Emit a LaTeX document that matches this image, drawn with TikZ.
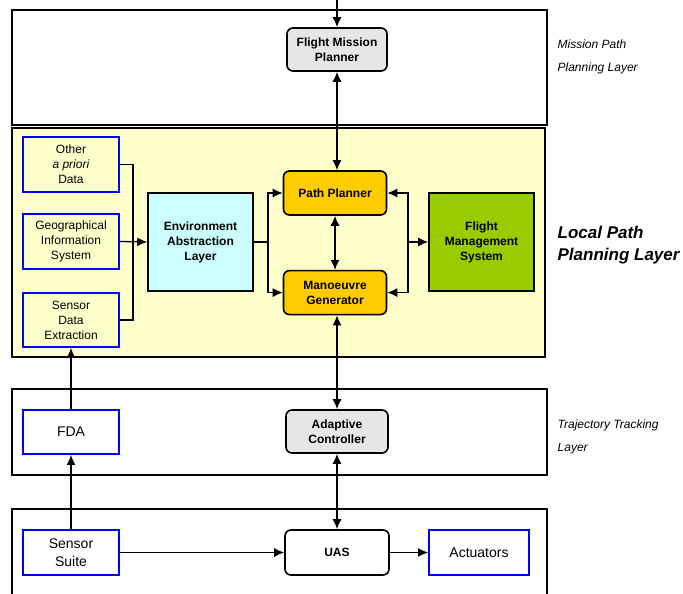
\documentclass[tikz,border=0pt]{standalone}
\usepackage{fontspec}
\setmainfont{Liberation Sans}
\usetikzlibrary{arrows.meta, positioning}
\definecolor{layeryellow}{HTML}{FFFFCC}
\definecolor{envcyan}{HTML}{CCFFFF}
\definecolor{planorange}{HTML}{FFCC00}
\definecolor{fmsgreen}{HTML}{99CC00}
\definecolor{ctrlgray}{HTML}{E6E6E6}

\tikzset{
  layerbox/.style = {line width=1.8pt},
  unit/.style = {draw, line width=1.6pt, align=center, inner sep=0pt,
    font=\fontsize{12}{15}\selectfont\bfseries},
  rounit/.style = {unit, rounded corners=6pt},
  srcbox/.style = {draw=blue, line width=1.9pt, align=center, inner sep=0pt,
    minimum width=96pt, font=\fontsize{12}{15}\selectfont},
  sidelabel/.style = {anchor=west, align=left, inner sep=0pt,
    font=\fontsize{12}{23}\selectfont\itshape},
}

\begin{document}
\begin{tikzpicture}[>={Latex[length=10pt, width=9pt]}, x=1pt, y=-1pt, line width=1.3pt]
    \useasboundingbox (0,0) rectangle (683,594);

    % layers
    \draw[layerbox] (12,10) rectangle (547,125);
    \draw[layerbox, fill=layeryellow] (12,128) rectangle (545,357);
    \draw[layerbox] (12,389) rectangle (547,475);
    \draw[layerbox] (12,610) -- (12,509) -- (547,509) -- (547,610);

    \node[sidelabel] (missionlbl) at (557,56.5) {Mission Path\\Planning Layer};
    \node[sidelabel, font=\fontsize{17}{22}\selectfont\bfseries\itshape] (locallbl) at (557,245) {Local Path\\Planning Layer};
    \node[sidelabel] (trackinglbl) at (557,437) {Trajectory Tracking\\Layer};

    % mission and local path planning
    \node[rounit, fill=ctrlgray, minimum width=100pt, minimum height=43pt] (fmp) at (337,49.5) {Flight Mission\\Planner};
    \node[rounit, fill=planorange, minimum width=103pt, minimum height=44pt] (pp) at (335,193) {Path Planner};
    \node[rounit, fill=planorange, minimum width=103pt, minimum height=44pt, below=54pt of pp] (mg) {Manoeuvre\\Generator};
    \node[unit, fill=envcyan, minimum width=105pt, minimum height=98pt] (eal) at (200.5,242) {Environment\\Abstraction\\Layer};
    \node[unit, fill=fmsgreen, minimum width=105pt, minimum height=98pt] (fms) at (481.5,242) {Flight\\Management\\System};

    \node[srcbox, minimum height=55pt] (gis) at (71,241.5) {Geographical\\Information\\System};
    \node[srcbox, minimum height=55pt, above=20pt of gis] (apriori) {Other\\\textit{a priori}\\Data};
    \node[srcbox, minimum height=54pt, below=22pt of gis] (sde) {Sensor\\Data\\Extraction};

    % trajectory tracking and vehicle
    \node[srcbox, minimum height=44pt, font=\fontsize{14}{18}\selectfont] (fda) at (71,432) {FDA};
    \node[rounit, fill=ctrlgray, minimum width=102pt, minimum height=43pt] (ac) at (337,431.5) {Adaptive\\Controller};
    \node[srcbox, minimum height=45pt, font=\fontsize{14}{18}\selectfont] (suite) at (71,552.5) {Sensor\\Suite};
    \node[rounit, fill=white, minimum width=104pt, minimum height=45pt] (uas) at (337,552.5) {UAS};
    \node[srcbox, minimum width=100pt, minimum height=45pt, font=\fontsize{14}{18}\selectfont] (act) at (479,552.5) {Actuators};

    \coordinate (mission) at (337,0);
    \coordinate (srcjoin) at (133,242);
    \coordinate (envjoin) at (268,242);
    \coordinate (fmsjoin) at (408,242);

    \draw[->] (mission) -- (fmp.north);
    \draw[<->] (fmp.south) -- (fmp.south |- pp.north);
    \draw[<->] (pp) -- (mg);
    \draw (apriori.east) -| (srcjoin);
    \draw (sde.east) -| (srcjoin);
    \draw[->] (gis.east) -- (eal.west);
    \draw (eal.east) -- (envjoin);
    \draw[->] (envjoin) |- (pp.west);
    \draw[->] (envjoin) |- (mg.west);
    \draw[->] (fmsjoin) |- (pp.east);
    \draw[->] (fmsjoin) |- (mg.east);
    \draw[->] (fmsjoin) -- (fms.west);
    \draw[<->] (mg.south -| ac.north) -- (ac.north);
    \draw[<->] (ac) -- (uas);
    \draw[->] (fda) -- (sde);
    \draw[->] (suite) -- (fda);
    \draw[->] (suite) -- (uas);
    \draw[->] (uas) -- (act);

\end{tikzpicture}
\end{document}
